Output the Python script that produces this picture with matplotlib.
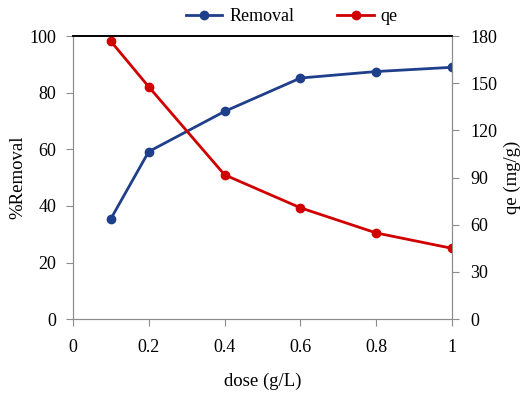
import matplotlib.pyplot as plt

dose = [0.1, 0.2, 0.4, 0.6, 0.8, 1.0]
removal = [35.4, 59.2, 73.4, 85.2, 87.5, 89.0]
qe = [176.8, 147.8, 91.8, 70.8, 54.8, 45.0]

blue = "#1f3f8a"
red = "#d00000"
grey = "#8c8c8c"

plt.rcParams.update({
    "font.family": ["Liberation Serif", "DejaVu Serif"],
    "font.size": 13,
})

fig = plt.figure(figsize=(5.24, 3.93), dpi=100)
ax = fig.add_axes([0.139, 0.188, 0.724, 0.72])
ax2 = ax.twinx()

l1, = ax.plot(dose, removal, color=blue, lw=2, marker="o", ms=6, label="Removal")
l2, = ax2.plot(dose, qe, color=red, lw=2, marker="o", ms=6, label="qe")

ax.set_xlim(0, 1)
ax.set_ylim(0, 100)
ax2.set_ylim(0, 180)
ax.set_xticks([0, 0.2, 0.4, 0.6, 0.8, 1])
ax.set_xticklabels(["0", "0.2", "0.4", "0.6", "0.8", "1"])
ax.set_yticks(range(0, 101, 20))
ax2.set_yticks(range(0, 181, 30))

for a in (ax, ax2):
    for s in ("left", "right", "bottom"):
        a.spines[s].set_color(grey)
    a.spines["top"].set_color("black")
    a.spines["top"].set_linewidth(1.2)
    a.tick_params(direction="out", length=5, color=grey, labelsize=13)
ax.tick_params(axis="x", pad=9)
ax.tick_params(axis="y", pad=7)
ax2.tick_params(axis="y", pad=8)

ax.set_xlabel("dose (g/L)", fontsize=13.5)
ax.set_ylabel("%Removal", fontsize=13.5)
ax2.set_ylabel("qe (mg/g)", fontsize=13.5)
ax.xaxis.set_label_coords(0.5, -0.19)
ax.yaxis.set_label_coords(-0.122, 0.5)
ax2.yaxis.set_label_coords(1.135, 0.5)

fig.legend(handles=[l1, l2], loc="upper center", bbox_to_anchor=(0.557, 1.02),
           ncol=2, frameon=False, fontsize=13, handlelength=2.0,
           handletextpad=0.4, columnspacing=2.4)

fig.savefig("out.png", dpi=100)
